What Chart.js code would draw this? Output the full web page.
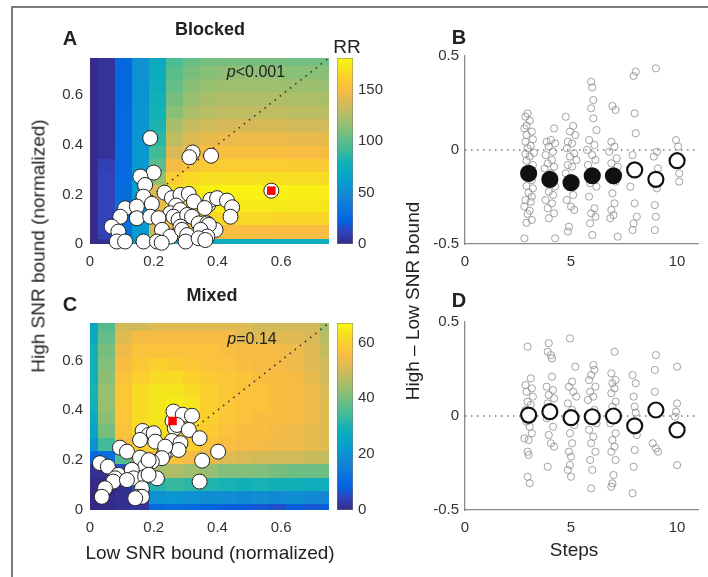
<!DOCTYPE html>
<html>
<head>
<meta charset="utf-8">
<title>SNR bounds: blocked vs mixed</title>
<script src="https://cdn.jsdelivr.net/npm/chart.js@4.4.1/dist/chart.umd.min.js"></script>
<style>
  html, body { margin: 0; padding: 0; background: #fff; }
  #fig { position: relative; width: 708px; height: 577px; overflow: hidden;
         font-family: "Liberation Sans", Arial, Helvetica, sans-serif; color: #222; }
  #fig canvas { position: absolute; left: 0; top: 0; }
  #frame { position: absolute; left: 11px; top: 6px; width: 740px; height: 620px;
           border-left: 2px solid #7a7a7a; border-top: 2px solid #7a7a7a; }
  .lbl { position: absolute; white-space: nowrap; line-height: 1; transform: translate(-50%, -50%); }
  .letter { font-weight: bold; font-size: 20px; }
  .ttl { font-weight: bold; font-size: 18px; }
  .axl { font-size: 19px; }
  .rot { transform: translate(-50%, -50%) rotate(-90deg); }
  .pval { font-size: 16px; }
</style>
</head>
<body>
<div id="fig">
  <div id="frame"></div>
  <canvas id="mapBlocked" width="708" height="577"></canvas>
  <canvas id="cbBlocked" width="708" height="577"></canvas>
  <canvas id="mapMixed" width="708" height="577"></canvas>
  <canvas id="cbMixed" width="708" height="577"></canvas>
  <canvas id="diffBlocked" width="708" height="577"></canvas>
  <canvas id="diffMixed" width="708" height="577"></canvas>

  <div class="lbl letter" style="left:70px;top:38px">A</div>
  <div class="lbl ttl" style="left:210px;top:29px">Blocked</div>
  <div class="lbl axl" style="left:347px;top:46px">RR</div>
  <div class="lbl pval" style="left:256px;top:72px"><i>p</i>&lt;0.001</div>
  <div class="lbl letter" style="left:70px;top:304px">C</div>
  <div class="lbl ttl" style="left:212px;top:295px">Mixed</div>
  <div class="lbl pval" style="left:252px;top:339px"><i>p</i>=0.14</div>
  <div class="lbl letter" style="left:459px;top:37px">B</div>
  <div class="lbl letter" style="left:459px;top:300px">D</div>
  <div class="lbl axl rot" style="left:38px;top:246px">High SNR bound (normalized)</div>
  <div class="lbl axl" style="left:210px;top:552px">Low SNR bound (normalized)</div>
  <div class="lbl axl rot" style="left:412px;top:301px">High – Low SNR bound</div>
  <div class="lbl axl" style="left:574px;top:549px">Steps</div>
</div>
<script>
// ---- data ----

// centres of the RR grid cells (normalized bounds), same for both axes
const gridLow = [0, 0.054, 0.107, 0.161, 0.214, 0.268, 0.321, 0.375, 0.429, 0.482, 0.536, 0.589, 0.643, 0.696, 0.75];
const gridHigh = [0, 0.054, 0.107, 0.161, 0.214, 0.268, 0.321, 0.375, 0.429, 0.482, 0.536, 0.589, 0.643, 0.696, 0.75];

// reward rate, rows go from high bound 0 (bottom) to 0.75 (top)
const rrBlocked = [
  [1, 3, 30, 55, 70, 75, 75, 76, 76, 76, 76, 76, 76, 76, 76],
  [1, 11, 30, 60, 135, 148, 150, 150, 151, 151, 151, 150, 150, 150, 150],
  [1, 11, 30, 62, 145, 160, 163, 165, 166, 166, 166, 165, 165, 165, 164],
  [1, 11, 30, 62, 145, 168, 172, 174, 175, 175, 175, 175, 174, 174, 173],
  [1, 11, 29, 62, 140, 170, 175, 177, 178, 178, 178, 178, 177, 177, 176],
  [1, 11, 28, 60, 115, 160, 166, 169, 170, 170, 170, 170, 169, 169, 168],
  [1, 10, 28, 58, 100, 148, 155, 158, 160, 160, 160, 160, 159, 159, 158],
  [1, 4, 28, 57, 92, 138, 146, 150, 152, 152, 152, 152, 151, 151, 150],
  [1, 4, 27, 56, 86, 130, 139, 143, 145, 145, 145, 145, 144, 144, 143],
  [1, 4, 27, 55, 82, 122, 131, 135, 137, 137, 137, 137, 136, 136, 135],
  [1, 4, 27, 55, 80, 113, 123, 127, 129, 129, 129, 129, 128, 128, 127],
  [1, 4, 26, 54, 78, 108, 117, 122, 124, 124, 124, 124, 123, 123, 122],
  [1, 4, 26, 54, 76, 103, 113, 117, 119, 119, 119, 119, 118, 118, 117],
  [1, 4, 26, 53, 74, 99, 108, 112, 114, 114, 114, 114, 113, 113, 112],
  [1, 4, 25, 53, 72, 95, 104, 107, 108, 108, 108, 108, 107, 107, 106]
];
const rrMixed = [
  [0, 0, 1, 2, 10, 11, 10, 9, 8, 8, 7, 6, 8, 7, 8],
  [0, 0, 1, 3, 20, 21, 20, 19, 19, 18, 19, 18, 19, 18, 17],
  [0, 0, 1, 8, 31, 33, 32, 31, 30, 29, 30, 29, 29, 28, 28],
  [1, 1, 6, 38, 45, 46, 44, 43, 41, 41, 41, 40, 39, 39, 39],
  [10, 11, 36, 52, 56, 57, 55, 53, 52, 51, 50, 50, 50, 49, 48],
  [20, 34, 55, 60, 62, 62, 60, 57, 56, 55, 55, 54, 54, 53, 52],
  [25, 40, 57, 62, 63, 64, 62, 59, 57, 56, 56, 55, 54, 53, 52],
  [27, 42, 58, 62, 64, 66, 64, 60, 58, 57, 56, 56, 55, 54, 52],
  [29, 43, 58, 62, 64, 65, 64, 60, 58, 57, 57, 56, 55, 54, 52],
  [30, 43, 58, 62, 64, 64, 62, 60, 58, 57, 57, 56, 55, 54, 51],
  [29, 42, 57, 60, 62, 62, 60, 59, 58, 57, 56, 56, 55, 53, 50],
  [29, 41, 56, 58, 60, 59, 58, 57, 57, 56, 55, 55, 54, 52, 50],
  [29, 40, 54, 57, 57, 57, 57, 57, 56, 55, 55, 55, 54, 52, 48],
  [27, 38, 52, 55, 55, 55, 55, 55, 55, 52, 52, 52, 52, 51, 47],
  [26, 36, 50, 50, 52, 52, 52, 52, 52, 52, 50, 50, 50, 50, 45]
];
const rrBlockedMax = 181;
const rrMixedMax = 67;

const boundTicks = [0, 0.2, 0.4, 0.6];
const rrBlockedTicks = [0, 50, 100, 150];
const rrMixedTicks = [0, 20, 40, 60];
const identityLine = [0, 0.75];

// individual subjects [low bound, high bound]
const blockedSubjects = [
  [0.189, 0.427], [0.322, 0.369], [0.312, 0.350], [0.380, 0.356],
  [0.200, 0.288], [0.158, 0.272], [0.173, 0.238], [0.168, 0.191],
  [0.234, 0.207], [0.257, 0.185], [0.284, 0.198], [0.310, 0.202], [0.326, 0.171],
  [0.371, 0.158], [0.378, 0.178], [0.399, 0.185], [0.360, 0.145],
  [0.430, 0.175], [0.446, 0.148], [0.441, 0.110],
  [0.110, 0.144], [0.147, 0.151], [0.194, 0.162], [0.270, 0.155],
  [0.252, 0.124], [0.283, 0.137],
  [0.095, 0.110], [0.147, 0.104], [0.189, 0.110], [0.215, 0.104],
  [0.262, 0.110], [0.278, 0.097], [0.305, 0.117], [0.320, 0.110],
  [0.341, 0.083], [0.368, 0.083], [0.394, 0.057], [0.373, 0.077], [0.347, 0.057],
  [0.068, 0.070], [0.089, 0.050], [0.226, 0.057], [0.252, 0.030], [0.284, 0.070],
  [0.289, 0.057], [0.305, 0.036], [0.368, 0.030],
  [0.084, 0.010], [0.110, 0.010], [0.168, 0.010], [0.210, 0.010], [0.225, 0.005],
  [0.300, 0.010], [0.341, 0.023], [0.362, 0.016],
  [0.569, 0.215]
];
const mixedSubjects = [
  [0.259, 0.357], [0.262, 0.395], [0.291, 0.382], [0.320, 0.378],
  [0.266, 0.328], [0.273, 0.341], [0.310, 0.321], [0.344, 0.288],
  [0.165, 0.317], [0.184, 0.301], [0.200, 0.308], [0.205, 0.274], [0.157, 0.281],
  [0.257, 0.277], [0.284, 0.268], [0.247, 0.241], [0.278, 0.241],
  [0.231, 0.221], [0.236, 0.254], [0.226, 0.208],
  [0.402, 0.234], [0.352, 0.198], [0.344, 0.114],
  [0.094, 0.250], [0.116, 0.234],
  [0.157, 0.210], [0.194, 0.194], [0.173, 0.174], [0.184, 0.200],
  [0.031, 0.188], [0.056, 0.174],
  [0.089, 0.141], [0.131, 0.161], [0.137, 0.127], [0.173, 0.134], [0.210, 0.127], [0.184, 0.141],
  [0.079, 0.127], [0.073, 0.114], [0.116, 0.120], [0.163, 0.087],
  [0.047, 0.087], [0.037, 0.053], [0.147, 0.053], [0.163, 0.053], [0.142, 0.047]
];
// best-performing bounds (red square)
const blockedBest = [0.569, 0.215];
const mixedBest = [0.259, 0.357];

// high - low bound by number of steps
const steps = [3, 4, 5, 6, 7, 8, 9, 10];
const blockedMeans = [-0.124, -0.156, -0.174, -0.137, -0.137, -0.106, -0.156, -0.057];
const blockedSignificant = [true, true, true, true, true, false, false, false];
const mixedMeans = [0.005, 0.023, -0.009, -0.004, 0, -0.052, 0.032, -0.074];
const zeroLine = [0, 11];
const stepTicks = [0, 5, 10];
const diffTicks = [-0.5, 0, 0.5];

const blockedDiffs = [
  [2.95, 0.195], [2.85, 0.177], [3.05, 0.156], [2.9, 0.13], [2.8, 0.115], [3.15, 0.098], [2.9, 0.08],
  [3.2, 0.057], [2.85, 0.044], [3.1, 0.023], [2.95, 0.009], [3.25, -0.015], [2.85, -0.021], [3.05, -0.035],
  [2.9, -0.057], [3.2, -0.08], [2.85, -0.106], [3.1, -0.12], [2.95, -0.14], [3.15, -0.16], [2.9, -0.191],
  [3.2, -0.204], [3.0, -0.227], [3.15, -0.248], [2.85, -0.266], [3.1, -0.275], [2.8, -0.301], [3.05, -0.323],
  [2.95, -0.34], [3.15, -0.372], [2.9, -0.387], [2.8, -0.47],
  [4.2, 0.115], [4.05, 0.053], [3.85, 0.044], [4.25, 0.035], [3.95, 0.018], [4.15, -0.009], [3.8, -0.027],
  [4.1, -0.053], [3.9, -0.071], [4.2, -0.089], [3.75, -0.098], [4.05, -0.124], [3.85, -0.16], [4.25, -0.195],
  [3.95, -0.222], [4.15, -0.239], [3.8, -0.266], [4.1, -0.284], [3.9, -0.31], [4.2, -0.337], [3.95, -0.363],
  [4.25, -0.47],
  [4.75, 0.177], [5.1, 0.128], [4.95, 0.098], [5.2, 0.08], [4.85, 0.044], [5.05, 0.035], [4.8, 0.009],
  [5.15, -0.018], [4.95, -0.035], [5.25, -0.053], [4.85, -0.08], [5.05, -0.089], [4.75, -0.124], [5.2, -0.16],
  [4.9, -0.195], [5.1, -0.239], [4.8, -0.266], [5.0, -0.301], [5.15, -0.319], [4.9, -0.408], [4.85, -0.434],
  [5.95, 0.363], [6.0, 0.333], [6.05, 0.266], [5.95, 0.222], [6.05, 0.168], [6.2, 0.106], [5.85, 0.053],
  [6.1, 0.027], [5.75, 0], [6.0, -0.027], [6.15, -0.053], [5.8, -0.08], [6.05, -0.124], [5.9, -0.177],
  [6.2, -0.195], [5.85, -0.248], [6.1, -0.31], [5.95, -0.337], [6.15, -0.355], [5.9, -0.39], [6.0, -0.452],
  [6.95, 0.234], [7.1, 0.213], [6.9, 0.044], [7.05, 0.018], [6.8, -0.009], [7.15, -0.044], [6.9, -0.071],
  [7.2, -0.089], [6.85, -0.124], [7.1, -0.168], [6.95, -0.23], [7.05, -0.284], [6.9, -0.319], [7.0, -0.346],
  [6.85, -0.363], [7.2, -0.461],
  [8.05, 0.417], [7.95, 0.394], [8.0, 0.195], [8.05, 0.089], [7.9, -0.027], [7.8, -0.195], [8.0, -0.284],
  [8.1, -0.355], [7.95, -0.39], [7.9, -0.426],
  [9.0, 0.434], [9.05, -0.009], [8.9, -0.035], [9.1, -0.098], [8.95, -0.16], [9.05, -0.204], [8.95, -0.293],
  [9.0, -0.355], [8.95, -0.426],
  [9.95, 0.053], [10.05, 0.018], [10.1, -0.124], [10.1, -0.168]
];
const mixedDiffs = [
  [2.95, 0.369], [3.1, 0.2], [2.85, 0.165], [3.15, 0.147], [2.9, 0.129], [3.2, 0.103], [2.95, 0.076],
  [3.1, 0.059], [2.85, 0.032], [3.2, -0.004], [2.9, -0.03], [3.05, -0.057], [3.15, -0.092], [2.8, -0.119],
  [3.0, -0.128], [2.95, -0.19], [3.0, -0.207], [2.95, -0.323], [3.05, -0.358],
  [3.95, 0.387], [3.9, 0.342], [4.05, 0.324], [4.1, 0.307], [4.1, 0.209], [3.85, 0.156], [4.15, 0.138],
  [3.95, 0.112], [4.2, 0.094], [3.9, 0.067], [4.1, 0.023], [3.85, -0.012], [4.15, -0.057], [3.95, -0.101],
  [4.05, -0.145], [4.2, -0.163], [3.9, -0.27],
  [4.95, 0.413], [5.2, 0.262], [5.05, 0.183], [4.9, 0.156], [5.1, 0.129], [5.25, 0.103], [4.85, 0.067],
  [5.05, 0.032], [4.9, -0.012], [5.15, -0.048], [4.95, -0.092], [5.05, -0.145], [4.9, -0.19], [5.0, -0.216],
  [4.95, -0.261], [4.85, -0.287], [5.0, -0.323],
  [6.05, 0.271], [6.1, 0.245], [5.95, 0.218], [5.85, 0.191], [6.15, 0.156], [5.9, 0.129], [6.05, 0.103],
  [5.8, 0.085], [6.1, 0.032], [5.9, -0.004], [6.2, -0.039], [5.85, -0.074], [6.05, -0.11], [5.95, -0.145],
  [6.15, -0.19], [5.9, -0.234], [6.0, -0.287], [5.95, -0.385],
  [7.05, 0.342], [6.9, 0.227], [7.1, 0.191], [6.95, 0.174], [7.05, 0.147], [6.9, 0.121], [7.1, 0.076],
  [6.95, 0.05], [6.85, -0.039], [7.1, -0.092], [6.95, -0.128], [7.05, -0.163], [6.9, -0.19], [7.1, -0.234],
  [7.0, -0.314], [6.95, -0.358], [6.9, -0.376],
  [7.9, 0.218], [8.05, 0.174], [7.95, 0.103], [8.0, 0.05], [8.05, 0.018], [7.95, -0.057], [8.1, -0.101],
  [8.0, -0.181], [7.95, -0.27], [7.9, -0.411],
  [9.0, 0.324], [8.95, 0.245], [8.95, 0.129], [8.85, -0.145], [9.0, -0.172], [9.1, -0.19],
  [10.0, 0.262], [10.0, 0.067], [9.95, 0.023], [9.9, -0.004], [10.0, -0.261]
];

// ---- styling helpers ----
Chart.defaults.font.family = '"Liberation Sans", Arial, Helvetica, sans-serif';
Chart.defaults.color = '#333';

// parula colormap, sampled every 4th entry of the 64-colour table
const parulaStops = ['#352A87', '#3243BA', '#0363E1', '#0D75DC', '#1485D4', '#0998D1', '#06A7C6', '#15B1B4',
                     '#42BB98', '#65BE86', '#92BF73', '#B7BD64', '#D9BA56', '#F8BB44', '#FCCE2E', '#F5E41D', '#F9FB0E'];
const parulaPos = [0, 4, 8, 12, 16, 20, 24, 28, 32, 36, 40, 44, 48, 52, 56, 60, 63].map(k => k / 63);
const parulaRgb = parulaStops.map(h => [1, 3, 5].map(k => parseInt(h.substr(k, 2), 16)));
function parula(t) {
  t = Math.max(0, Math.min(1, t));
  let i = 0;
  while (i < parulaPos.length - 2 && t > parulaPos[i + 1]) i++;
  const f = (t - parulaPos[i]) / (parulaPos[i + 1] - parulaPos[i]);
  const c = parulaRgb[i].map((v, k) => Math.round(v + (parulaRgb[i + 1][k] - v) * f));
  return 'rgb(' + c.join(',') + ')';
}

const tickFont = { size: 15 };
const setTicks = list => scale => { scale.ticks = list.map(v => ({ value: v })); };

// draws the RR grid under the datasets, using the chart's own scales
function heatmapPlugin(grid, maxRR) {
  const edges = arr => arr.map((v, i) => [
    i === 0 ? v - (arr[1] - arr[0]) / 2 : (arr[i - 1] + v) / 2,
    i === arr.length - 1 ? v + (v - arr[i - 1]) / 2 : (v + arr[i + 1]) / 2
  ]);
  return {
    id: 'heatmap',
    beforeDatasetsDraw(chart) {
      const { ctx, chartArea: a, scales: { x, y } } = chart;
      const ex = edges(gridLow), ey = edges(gridHigh);
      ctx.save();
      ctx.beginPath();
      ctx.rect(a.left, a.top, a.width, a.height);
      ctx.clip();
      grid.forEach((row, j) => {
        row.forEach((v, i) => {
          const x0 = x.getPixelForValue(ex[i][0]), x1 = x.getPixelForValue(ex[i][1]);
          const y0 = y.getPixelForValue(ey[j][0]), y1 = y.getPixelForValue(ey[j][1]);
          ctx.fillStyle = parula(v / maxRR);
          ctx.fillRect(Math.floor(x0), Math.floor(y1), Math.ceil(x1 - x0) + 1, Math.ceil(y0 - y1) + 1);
        });
      });
      ctx.restore();
    }
  };
}

function mapPanel(id, grid, maxRR, subjects, best, top, bottom) {
  return new Chart(document.getElementById(id), {
    type: 'scatter',
    data: {
      datasets: [
        { data: [best], pointStyle: 'rect', pointRadius: 6, backgroundColor: '#ff0000', borderWidth: 0, clip: false },
        { data: subjects, pointRadius: 7.5, backgroundColor: '#ffffff', borderColor: '#222', borderWidth: 1, clip: false },
        { type: 'line', data: identityLine.map(v => ({ x: v, y: v })), borderColor: '#333', borderWidth: 1.6,
          borderDash: [1.5, 5], pointRadius: 0, fill: false }
      ]
    },
    options: {
      responsive: false, animation: false, events: [],
      layout: { padding: { left: 30, right: 379, top: top, bottom: bottom } },
      plugins: { legend: { display: false }, tooltip: { enabled: false } },
      scales: {
        x: { type: 'linear', min: 0, max: 0.75, border: { display: false },
             grid: { display: false, drawTicks: false },
             afterBuildTicks: setTicks(boundTicks), afterFit: s => { s.height = 30; },
             ticks: { padding: 9, font: tickFont, color: '#333', callback: v => String(v) } },
        y: { type: 'linear', min: 0, max: 0.75, border: { display: false },
             grid: { display: false, drawTicks: false },
             afterBuildTicks: setTicks(boundTicks), afterFit: s => { s.width = 60; },
             ticks: { padding: 7, font: tickFont, color: '#333', callback: v => String(v) } }
      }
    },
    plugins: [heatmapPlugin(grid, maxRR)]
  });
}

function colorbar(id, maxRR, ticks, top, bottom) {
  return new Chart(document.getElementById(id), {
    type: 'bar',
    data: {
      labels: ['RR'],
      datasets: [{
        data: [maxRR],
        backgroundColor: c => {
          const a = c.chart.chartArea;
          if (!a) return parulaStops[0];
          const g = c.chart.ctx.createLinearGradient(0, a.bottom, 0, a.top);
          parulaStops.forEach((col, k) => g.addColorStop(parulaPos[k], col));
          return g;
        },
        borderColor: '#777', borderWidth: 0.8, borderSkipped: false,
        barPercentage: 1, categoryPercentage: 1
      }]
    },
    options: {
      responsive: false, animation: false, events: [],
      layout: { padding: { left: 337, right: 315, top: top, bottom: bottom } },
      plugins: { legend: { display: false }, tooltip: { enabled: false } },
      scales: {
        x: { display: false },
        y: { position: 'right', min: 0, max: maxRR, border: { display: false },
             grid: { display: false, drawTicks: false },
             afterBuildTicks: setTicks(ticks), afterFit: s => { s.width = 40; },
             ticks: { padding: 5, font: tickFont, color: '#333' } }
      }
    }
  });
}

function diffPanel(id, diffs, means, filled, top, bottom) {
  return new Chart(document.getElementById(id), {
    type: 'scatter',
    data: {
      datasets: [
        { data: steps.map((s, i) => ({ x: s, y: means[i] })), pointRadius: 7.5, borderWidth: 2.2,
          borderColor: '#111', backgroundColor: c => (filled && filled[c.dataIndex]) ? '#111' : '#fff', clip: false },
        { data: diffs, pointRadius: 3.6, borderWidth: 0.8, borderColor: '#8c8c8c',
          backgroundColor: 'rgba(255,255,255,0)', clip: false },
        { type: 'line', data: zeroLine.map(v => ({ x: v, y: 0 })), borderColor: '#777', borderWidth: 1.3,
          borderDash: [1.5, 4.5], pointRadius: 0, fill: false }
      ]
    },
    options: {
      responsive: false, animation: false, events: [],
      layout: { padding: { left: 405, right: 3, top: top, bottom: bottom } },
      plugins: { legend: { display: false }, tooltip: { enabled: false } },
      scales: {
        x: { type: 'linear', min: 0, max: 11, border: { display: true, color: '#8a8a8a', width: 1.3 },
             grid: { display: false, drawTicks: false },
             afterBuildTicks: setTicks(stepTicks), afterFit: s => { s.height = 30; },
             ticks: { padding: 9, font: tickFont, color: '#333' } },
        y: { type: 'linear', min: -0.5, max: 0.5, border: { display: true, color: '#8a8a8a', width: 1.3 },
             grid: { display: false, drawTicks: false },
             afterBuildTicks: setTicks(diffTicks), afterFit: s => { s.width = 60; },
             ticks: { padding: 6, font: tickFont, color: '#333', callback: v => String(v) } }
      }
    }
  });
}

mapPanel('mapBlocked', rrBlocked, rrBlockedMax, blockedSubjects, blockedBest, 58, 303);
colorbar('cbBlocked', rrBlockedMax, rrBlockedTicks, 58, 333);
mapPanel('mapMixed', rrMixed, rrMixedMax, mixedSubjects, mixedBest, 323, 37);
colorbar('cbMixed', rrMixedMax, rrMixedTicks, 323, 67);
diffPanel('diffBlocked', blockedDiffs, blockedMeans, blockedSignificant, 56, 303);
diffPanel('diffMixed', mixedDiffs, mixedMeans, null, 322, 37);
</script>
</body>
</html>
